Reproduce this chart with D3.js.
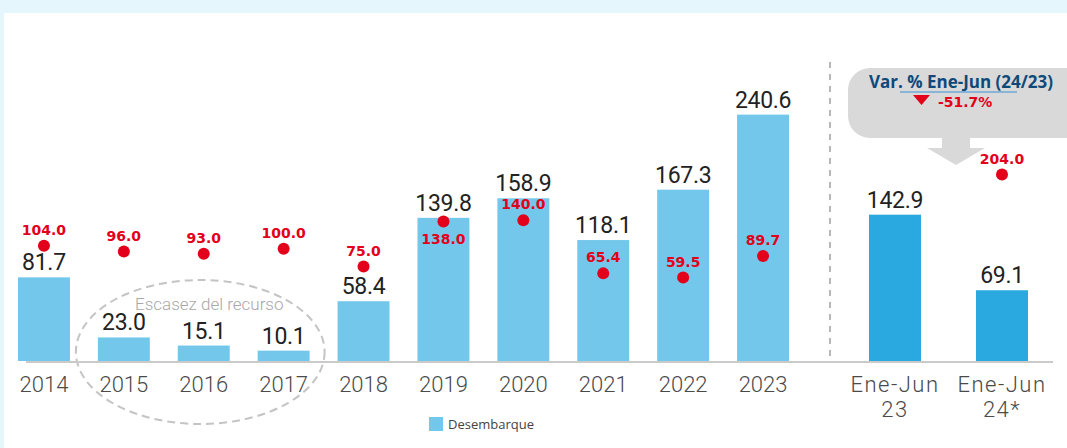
<!DOCTYPE html>
<html>
<head>
<meta charset="utf-8">
<script src="https://cdn.jsdelivr.net/npm/d3@7/dist/d3.min.js"></script>
<style>
body { margin: 0; background: #e5f6fd; }
svg { display: block; }
</style>
</head>
<body>
<svg id="main"></svg>
<script>
var years = ['2014', '2015', '2016', '2017', '2018', '2019', '2020', '2021', '2022', '2023'];
var landings = [81.7, 23.0, 15.1, 10.1, 58.4, 139.8, 158.9, 118.1, 167.3, 240.6];
var prices = [104.0, 96.0, 93.0, 100.0, 75.0, 138.0, 140.0, 65.4, 59.5, 89.7];
var periods = ['Ene-Jun 23', 'Ene-Jun 24*'];
var periodLandings = [142.9, 69.1];
var periodPrices = [null, 204.0];
var scarceYears = ['2015', '2016', '2017'];
var variation = -51.7;
var legendLabel = 'Desembarque';

var width = 1067, height = 448;
var base = 361;
var red = '#e2001a';
var fmt = v => v.toFixed(1);

var svg = d3.select('#main').attr('width', width).attr('height', height);

// white panel on light blue frame
svg.append('rect').attr('x', 4).attr('y', 13).attr('width', width - 4).attr('height', height - 13).attr('fill', '#fff');

var x = d3.scaleBand().domain(years).range([4, 803]).paddingInner(0.35).paddingOuter(0.175);
var xp = d3.scaleBand().domain(periods).range([841.5, 1055.5]).paddingInner(0.514).paddingOuter(0.257);
var y = d3.scaleLinear().domain([0, 250]).range([base, base - 256]);
var yp = d3.scaleLinear().domain([0, 250]).range([320, 141.75]);

var yearRows = years.map((d, i) => ({key: d, v: landings[i], p: prices[i], cx: x(d) + x.bandwidth() / 2, w: x.bandwidth(), x0: x(d), color: '#72c7ea'}));
var periodRows = periods.map((d, i) => ({key: d, v: periodLandings[i], p: periodPrices[i], cx: xp(d) + xp.bandwidth() / 2, w: xp.bandwidth(), x0: xp(d), color: '#29a9e0'}));
var rows = yearRows.concat(periodRows);

// scarcity ellipse
var sx0 = x(scarceYears[0]) - 22;
var sx1 = x(scarceYears[scarceYears.length - 1]) + x.bandwidth() + 15;
svg.append('ellipse')
	.attr('cx', (sx0 + sx1) / 2).attr('cy', 352)
	.attr('rx', (sx1 - sx0) / 2).attr('ry', 72)
	.attr('fill', 'none').attr('stroke', '#c4c4c4').attr('stroke-width', 2)
	.attr('stroke-dasharray', '8,5');
svg.append('text')
	.attr('x', (sx0 + sx1) / 2 + 9).attr('y', 310)
	.attr('text-anchor', 'middle')
	.style('font', '300 17px Roboto').attr('fill', '#a8a8a8')
	.text('Escasez del recurso');

// bars
svg.append('g').selectAll('rect').data(rows).join('rect')
	.attr('x', d => d.x0).attr('y', d => y(d.v))
	.attr('width', d => d.w).attr('height', d => base - y(d.v))
	.attr('fill', d => d.color);

// baseline + separator
svg.append('line').attr('x1', 26).attr('x2', 1053).attr('y1', base + 1).attr('y2', base + 1)
	.attr('stroke', '#cacaca').attr('stroke-width', 2);
svg.append('line').attr('x1', 830).attr('x2', 830).attr('y1', 62).attr('y2', base)
	.attr('stroke', '#a0a0a0').attr('stroke-width', 1.5).attr('stroke-dasharray', '6,6');

// value labels
svg.append('g').selectAll('text').data(rows).join('text')
	.attr('x', d => d.cx).attr('y', d => y(d.v) - 7)
	.attr('text-anchor', 'middle')
	.style('font', '400 23px Roboto').style('letter-spacing', '-0.3px')
	.attr('fill', '#222')
	.text(d => fmt(d.v));

// price dots
var dots = rows.filter(d => d.p != null);
svg.append('g').selectAll('circle').data(dots).join('circle')
	.attr('cx', d => d.cx).attr('cy', d => yp(d.p)).attr('r', 6)
	.attr('fill', red);
svg.append('g').selectAll('text').data(dots).join('text')
	.attr('x', d => d.cx)
	.attr('y', d => {
		var above = yp(d.p) - 11;
		// keep clear of the bar's own value label
		return (above > y(d.v) - 24 && above < y(d.v) + 8) ? yp(d.p) + 22 : above;
	})
	.attr('text-anchor', 'middle')
	.style('font', 'bold 14px "DejaVu Sans"')
	.attr('fill', red)
	.text(d => fmt(d.p));

// x axis labels
var ax = svg.append('g').attr('transform', `translate(0,${base})`)
	.call(d3.axisBottom(x).tickSize(0));
ax.select('.domain').remove();
ax.selectAll('text').attr('y', 31).attr('dy', null)
	.style('font', '300 22px Roboto').attr('fill', '#4a4a4a');

var axp = svg.append('g').attr('transform', `translate(0,${base})`)
	.call(d3.axisBottom(xp).tickSize(0).tickFormat(''));
axp.select('.domain').remove();
axp.selectAll('.tick text').each(function(d) {
	var t = d3.select(this).attr('y', 31).attr('dy', null)
		.style('font', '300 22px Roboto').style('letter-spacing', '1.5px').attr('fill', '#4a4a4a');
	d.split(' ').forEach((part, i) => t.append('tspan').attr('x', 0).attr('dy', i ? 25 : 0).text(part));
});

// callout
var callout = svg.append('g');
callout.append('rect').attr('x', 848).attr('y', 68).attr('width', 240).attr('height', 70).attr('rx', 22).attr('fill', '#d9d9d9');
callout.append('rect').attr('x', 942).attr('y', 136).attr('width', 28).attr('height', 13).attr('fill', '#d9d9d9');
callout.append('path').attr('d', 'M927,148 L985,148 L956,165 Z').attr('fill', '#d9d9d9');
callout.append('text').attr('x', 961).attr('y', 88).attr('text-anchor', 'middle')
	.style('font', 'bold 17px "Open Sans"').attr('fill', '#0d4a7a')
	.text('Var. % Ene-Jun (24/23)');
callout.append('line').attr('x1', 900).attr('x2', 1017).attr('y1', 92).attr('y2', 92)
	.attr('stroke', '#3a8fd3').attr('stroke-width', 1.2);
callout.append('path').attr('d', 'M913,95 L930,95 L921.5,105 Z').attr('fill', red);
callout.append('text').attr('x', 938).attr('y', 107)
	.style('font', 'bold 14px "DejaVu Sans"').attr('fill', red)
	.text(fmt(variation) + '%');

// legend
svg.append('rect').attr('x', 429).attr('y', 417).attr('width', 14).attr('height', 14).attr('fill', '#72c7ea');
svg.append('text').attr('x', 448).attr('y', 429)
	.style('font', '13px "Open Sans"').attr('fill', '#444')
	.text(legendLabel);
</script>
</body>
</html>
